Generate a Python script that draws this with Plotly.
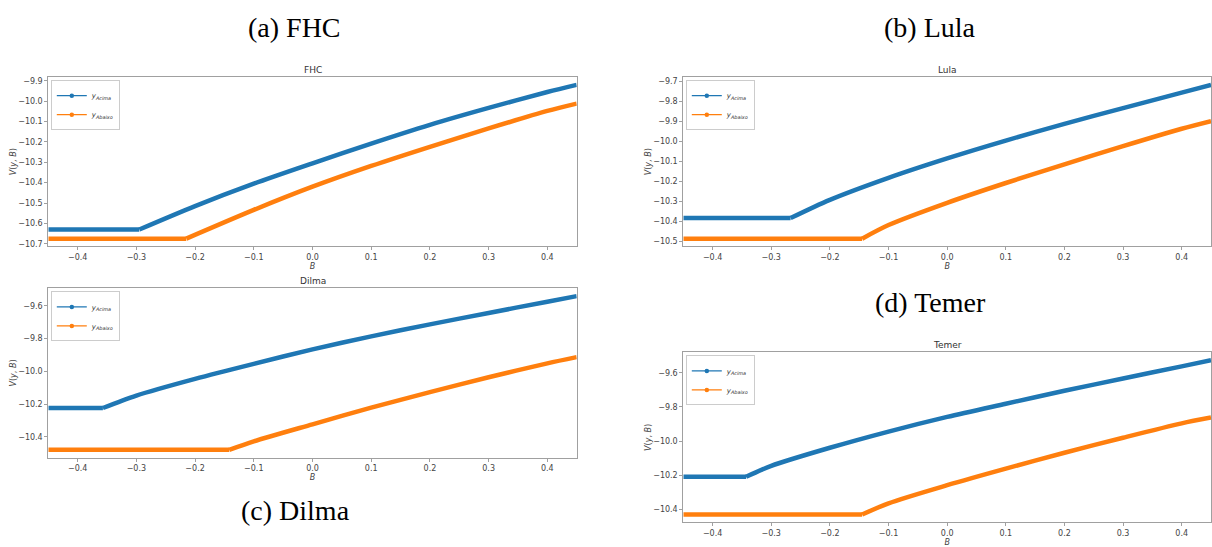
import plotly.graph_objects as go

# ---- value function V(y, B) for each government, two income states ----
# the first two points of each series are the flat (borrowing-limit) stretch
B_FHC_ACIMA = [-0.45, -0.295, -0.2, -0.1, 0.0, 0.1, 0.2, 0.3, 0.4, 0.45]
V_FHC_ACIMA = [-10.63, -10.63, -10.515, -10.405, -10.305, -10.208, -10.116, -10.033, -9.955, -9.92]
B_FHC_ABAIXO = [-0.45, -0.215, -0.1, 0.0, 0.1, 0.2, 0.3, 0.4, 0.45]
V_FHC_ABAIXO = [-10.675, -10.675, -10.534, -10.42, -10.318, -10.224, -10.134, -10.048, -10.012]

B_LULA_ACIMA = [-0.45, -0.267, -0.2, -0.1, 0.0, 0.1, 0.2, 0.3, 0.4, 0.45]
V_LULA_ACIMA = [-10.383, -10.383, -10.292, -10.182, -10.085, -9.996, -9.913, -9.834, -9.757, -9.718]
B_LULA_ABAIXO = [-0.45, -0.145, -0.1, 0.0, 0.1, 0.2, 0.3, 0.4, 0.45]
V_LULA_ABAIXO = [-10.486, -10.486, -10.418, -10.307, -10.208, -10.115, -10.024, -9.937, -9.899]

B_DILMA_ACIMA = [-0.45, -0.357, -0.3, -0.2, -0.1, 0.0, 0.1, 0.2, 0.3, 0.4, 0.45]
V_DILMA_ACIMA = [-10.224, -10.224, -10.148, -10.046, -9.954, -9.866, -9.786, -9.713, -9.643, -9.574, -9.54]
B_DILMA_ABAIXO = [-0.45, -0.142, -0.1, 0.0, 0.1, 0.2, 0.3, 0.4, 0.45]
V_DILMA_ABAIXO = [-10.48, -10.48, -10.428, -10.324, -10.222, -10.127, -10.036, -9.951, -9.913]

B_TEMER_ACIMA = [-0.45, -0.343, -0.3, -0.2, -0.1, 0.0, 0.1, 0.2, 0.3, 0.4, 0.45]
V_TEMER_ACIMA = [-10.209, -10.209, -10.145, -10.039, -9.944, -9.858, -9.781, -9.705, -9.633, -9.562, -9.526]
B_TEMER_ABAIXO = [-0.45, -0.145, -0.1, 0.0, 0.1, 0.2, 0.3, 0.4, 0.45]
V_TEMER_ABAIXO = [-10.43, -10.43, -10.364, -10.258, -10.161, -10.068, -9.98, -9.896, -9.862]

B_RANGE = [-0.45, 0.45]
B_TICKS = [-0.4, -0.3, -0.2, -0.1, 0.0, 0.1, 0.2, 0.3, 0.4]

W, H = 1212, 547
BLUE, ORANGE = "#1f77b4", "#ff7f0e"
TICK_COLOR = "#444444"
SPINE = "#a0a0a0"
SERIF = "Liberation Serif, Times New Roman, serif"
SANS = "DejaVu Sans, sans-serif"
LINE_W = 4.5


def fx(px):
    return px / W


def fy(px):
    return 1 - px / H


panels = [
    dict(title="FHC", caption="(a) FHC", cap_y=27, cap_x=294, b_standoff=1,
         x_px=(48.3, 576.7), y_px=(77.3, 249.0), dtick=0.1,
         acima=(B_FHC_ACIMA, V_FHC_ACIMA), abaixo=(B_FHC_ABAIXO, V_FHC_ABAIXO)),
    dict(title="Lula", caption="(b) Lula", cap_y=27, cap_x=930, b_standoff=1,
         x_px=(683.3, 1211.0), y_px=(77.3, 249.0), dtick=0.1,
         acima=(B_LULA_ACIMA, V_LULA_ACIMA), abaixo=(B_LULA_ABAIXO, V_LULA_ABAIXO)),
    dict(title="Dilma", caption="(c) Dilma", cap_y=517, cap_x=295, b_standoff=1,
         x_px=(48.3, 576.7), y_px=(291.7, 463.3), dtick=0.2,
         acima=(B_DILMA_ACIMA, V_DILMA_ACIMA), abaixo=(B_DILMA_ABAIXO, V_DILMA_ABAIXO)),
    dict(title="Temer", caption="(d) Temer", cap_y=306, cap_x=930, b_standoff=4,
         x_px=(683.3, 1211.0), y_px=(356.7, 529.0), dtick=0.2,
         acima=(B_TEMER_ACIMA, V_TEMER_ACIMA), abaixo=(B_TEMER_ABAIXO, V_TEMER_ABAIXO)),
]

fig = go.Figure()
layout = dict(
    width=W, height=H,
    margin=dict(l=0, r=0, t=0, b=0),
    paper_bgcolor="white", plot_bgcolor="white",
    annotations=[],
)

for i, p in enumerate(panels, start=1):
    sfx = "" if i == 1 else str(i)
    xa, ya = f"x{sfx}", f"y{sfx}"
    leg = "legend" if i == 1 else f"legend{i}"

    # y limits with matplotlib-style 5% margin around the data
    all_v = p["acima"][1] + p["abaixo"][1]
    vmin, vmax = min(all_v), max(all_v)
    pad = 0.05 * (vmax - vmin)

    for (bx, vy), color in ((p["acima"], BLUE), (p["abaixo"], ORANGE)):
        # flat stretch up to the kink, then the smooth rising branch
        fig.add_trace(go.Scatter(
            x=bx[:2], y=vy[:2], xaxis=xa, yaxis=ya, mode="lines",
            line=dict(color=color, width=LINE_W), showlegend=False,
            hoverinfo="x+y",
        ))
        fig.add_trace(go.Scatter(
            x=bx[1:], y=vy[1:], xaxis=xa, yaxis=ya, mode="lines",
            line=dict(color=color, width=LINE_W, shape="spline", smoothing=0.8),
            showlegend=False, hoverinfo="x+y",
        ))
    for label, color in (("<i>y<sub>Acima</sub></i>", BLUE), ("<i>y<sub>Abaixo</sub></i>", ORANGE)):
        fig.add_trace(go.Scatter(
            x=[None], y=[None], xaxis=xa, yaxis=ya, mode="lines+markers",
            name=label, legend=leg,
            line=dict(color=color, width=1.3),
            marker=dict(color=color, size=4.5),
        ))

    x0, x1 = p["x_px"]
    y0, y1 = p["y_px"]
    axis_common = dict(
        showline=True, linecolor=SPINE, linewidth=1, mirror=True,
        ticks="outside", ticklen=3, tickwidth=1, tickcolor=SPINE,
        showgrid=False, zeroline=False,
        tickfont=dict(family=SANS, size=8, color=TICK_COLOR),
    )
    layout[f"xaxis{sfx}"] = dict(
        axis_common, domain=[fx(x0), fx(x1)], anchor=ya,
        range=B_RANGE, tickvals=B_TICKS, tickformat=".1f",
        title=dict(text="<i>B</i>", standoff=p["b_standoff"],
                   font=dict(family=SANS, size=8, color=TICK_COLOR)),
    )
    layout[f"yaxis{sfx}"] = dict(
        axis_common, domain=[fy(y1), fy(y0)], anchor=xa,
        range=[vmin - pad, vmax + pad], dtick=p["dtick"], tick0=0, tickformat=".1f",
        title=dict(text="<i>V</i>(<i>y</i>, <i>B</i>)", standoff=0,
                   font=dict(family=SANS, size=8, color=TICK_COLOR)),
    )
    layout[leg] = dict(
        x=fx(x0 + 2.5), y=fy(y0 + 3), xanchor="left", yanchor="top",
        bgcolor="rgba(255,255,255,0.9)", bordercolor="#cccccc", borderwidth=1,
        font=dict(family=SANS, size=7, color="#333333"),
        itemwidth=30, tracegroupgap=0,
    )

    # small title above each axes
    layout["annotations"].append(dict(
        text=p["title"], x=fx((x0 + x1) / 2), y=fy(y0 - 0.5),
        xref="paper", yref="paper", xanchor="center", yanchor="bottom",
        showarrow=False, font=dict(family=SANS, size=9, color="#333333"),
    ))
    # panel caption
    layout["annotations"].append(dict(
        text=p["caption"], x=fx(p["cap_x"]), y=fy(p["cap_y"]),
        xref="paper", yref="paper", xanchor="center", yanchor="middle",
        showarrow=False, font=dict(family=SERIF, size=28, color="black"),
    ))

fig.update_layout(**layout)
fig.write_html("out.html")
